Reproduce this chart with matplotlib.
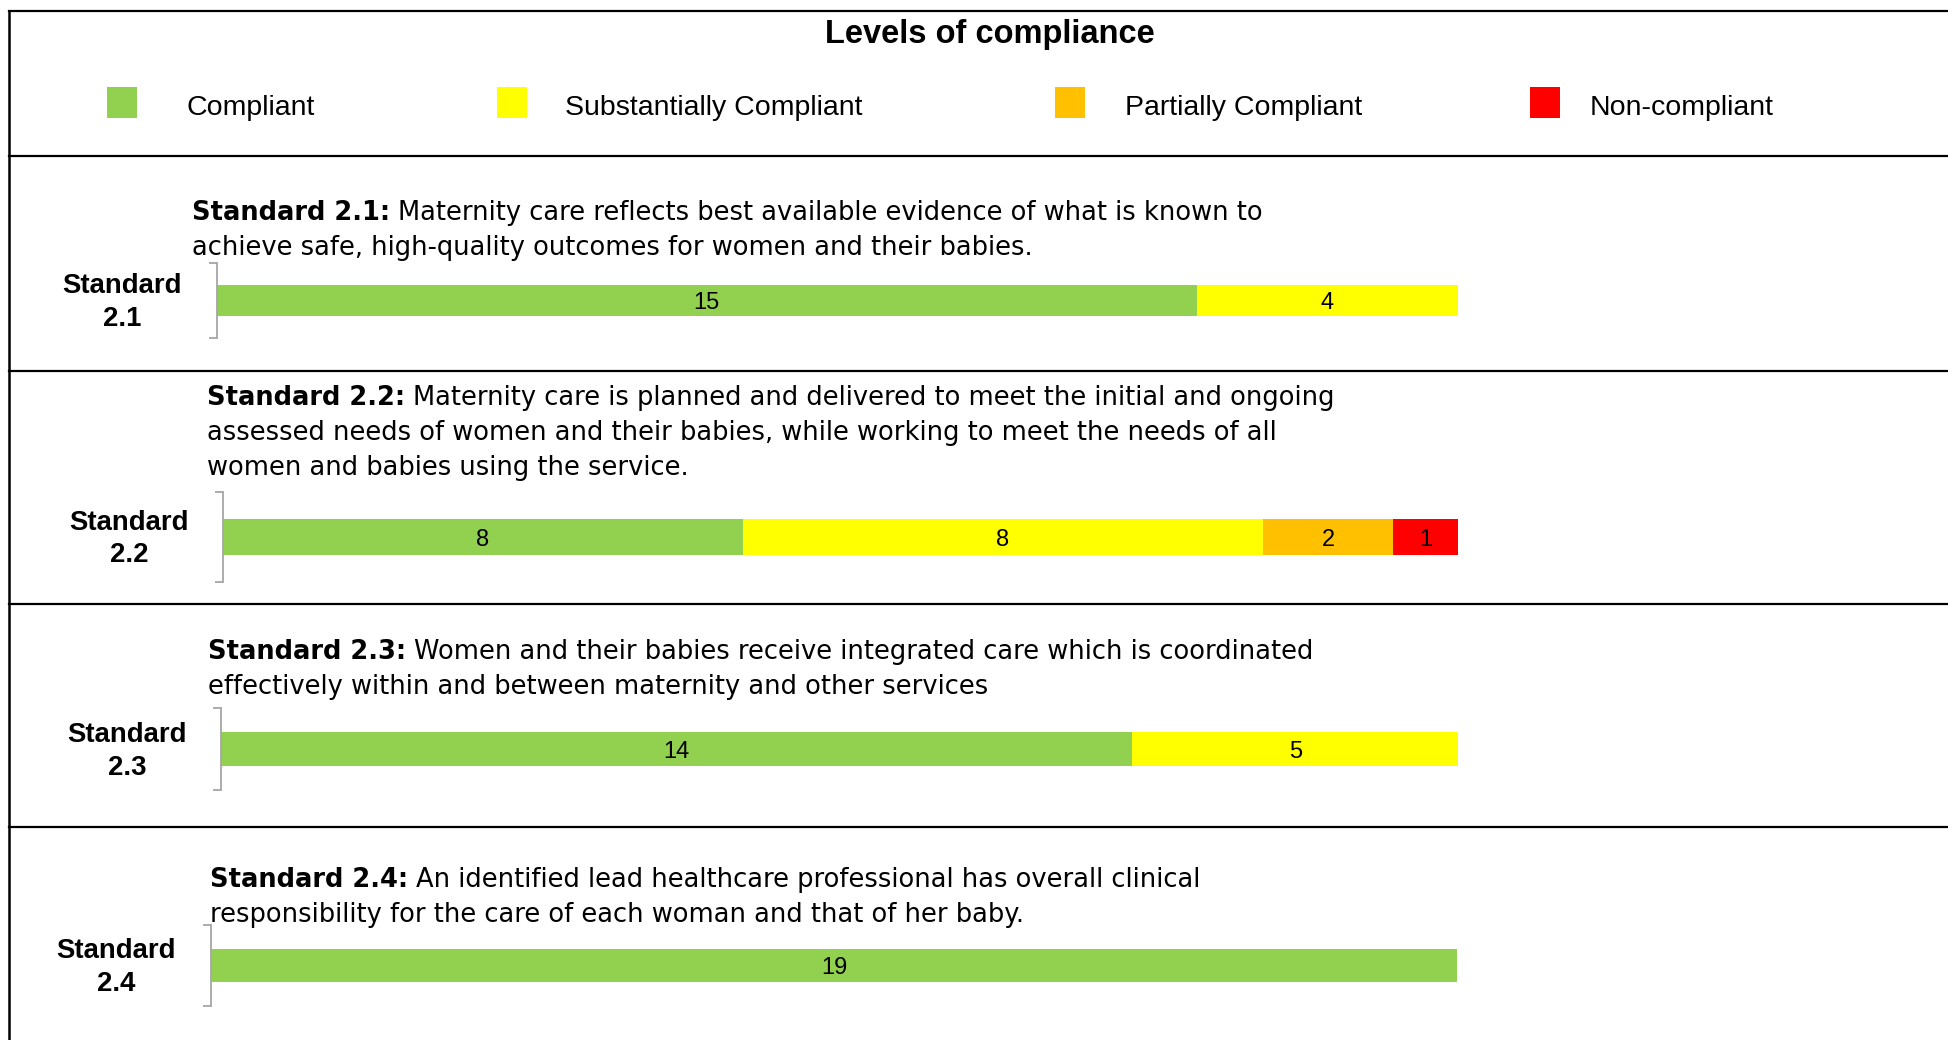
import matplotlib
matplotlib.use('Agg')
import matplotlib.pyplot as plt
from matplotlib.patches import Rectangle
from matplotlib.lines import Line2D

plt.rcParams['font.family'] = ['Liberation Sans', 'DejaVu Sans']

W, H = 1948, 1040

# data
levels = ['Compliant', 'Substantially Compliant', 'Partially Compliant', 'Non-compliant']
level_colors = ['#92D050', '#FFFF00', '#FFC000', '#FF0000']

standards = ['Standard 2.1', 'Standard 2.2', 'Standard 2.3', 'Standard 2.4']
compliant = [15, 8, 14, 19]
substantially = [4, 8, 5, 0]
partially = [0, 2, 0, 0]
non_compliant = [0, 1, 0, 0]

descriptions = [
    ['Maternity care reflects best available evidence of what is known to',
     'achieve safe, high-quality outcomes for women and their babies.'],
    ['Maternity care is planned and delivered to meet the initial and ongoing',
     'assessed needs of women and their babies, while working to meet the needs of all',
     'women and babies using the service.'],
    ['Women and their babies receive integrated care which is coordinated',
     'effectively within and between maternity and other services'],
    ['An identified lead healthcare professional has overall clinical',
     'responsibility for the care of each woman and that of her baby.'],
]

# layout in pixels (left, top, right, bottom of bar axes), text x, first baseline, label x, label baselines
panels = [
    dict(box=(217, 263, 1458, 338), tx=192, ty=220, lx=122, ly=(293, 326)),
    dict(box=(223, 492, 1458, 582), tx=207, ty=405, lx=129, ly=(530, 562)),
    dict(box=(221, 708, 1458, 790), tx=208, ty=659, lx=127, ly=(742, 775)),
    dict(box=(211, 925, 1457, 1006), tx=210, ty=887, lx=116.5, ly=(958, 991)),
]
separators = [156, 371, 604, 827]

DESC_FONT = 'DejaVu Sans'
TXT = 18.5
LINE = 35


def fx(px):
    return px / W


def fy(py):
    return 1 - py / H


fig = plt.figure(figsize=(W / 100, H / 100), dpi=100)
renderer = fig.canvas.get_renderer()

# frame
fig.add_artist(Line2D([fx(9), fx(W)], [fy(11), fy(11)], color='black', lw=1.6))
fig.add_artist(Line2D([fx(9), fx(9)], [fy(11), fy(H)], color='black', lw=1.8))
for s in separators:
    fig.add_artist(Line2D([fx(9), fx(W)], [fy(s), fy(s)], color='black', lw=1.6))

# legend header
fig.text(fx(990), fy(43), 'Levels of compliance', fontsize=23.5, fontweight='bold',
         ha='center', va='baseline')
sq_x = [107, 497, 1055, 1530]
lab_x = [186, 565, 1125, 1590]
for name, col, sx, lxx in zip(levels, level_colors, sq_x, lab_x):
    fig.add_artist(Rectangle((fx(sx), fy(118)), 30 / W, 31 / H, transform=fig.transFigure,
                             facecolor=col, edgecolor='none'))
    fig.text(fx(lxx), fy(115), name, fontsize=20.5, va='baseline')

series = [compliant, substantially, partially, non_compliant]
space_px = 0.318 * TXT * 100 / 72

for i, p in enumerate(panels):
    l, t, r, b = p['box']
    ax = fig.add_axes([fx(l), fy(b), (r - l) / W, (b - t) / H])
    ax.set_xlim(0, 19)
    ax.set_ylim(-0.5, 0.5)
    left = 0
    for vals, col in zip(series, level_colors):
        v = vals[i]
        if v:
            ax.barh(0, v, left=left, height=0.41, color=col)
            ax.annotate(str(v), xy=(left + v / 2, 0), xytext=(0, -2), textcoords='offset points',
                        ha='center', va='center', fontsize=17)
        left += v
    for sp in ['top', 'right', 'bottom']:
        ax.spines[sp].set_visible(False)
    ax.spines['left'].set_color('#A6A6A6')
    ax.spines['left'].set_linewidth(1.3)
    ax.set_xticks([])
    ax.set_yticks([-0.5, 0.5])
    ax.tick_params(axis='y', length=6, width=1.3, color='#A6A6A6', labelleft=False)
    ax.patch.set_alpha(0)

    # description
    head = fig.text(fx(p['tx']), fy(p['ty']), standards[i] + ':', fontsize=TXT,
                    fontweight='bold', va='baseline', family=DESC_FONT)
    w = head.get_window_extent(renderer).width
    for k, line in enumerate(descriptions[i]):
        x = p['tx'] + (w + space_px if k == 0 else 0)
        fig.text(fx(x), fy(p['ty'] + k * LINE), line, fontsize=TXT, va='baseline',
                 family=DESC_FONT)

    # category label
    word, num = standards[i].split()
    fig.text(fx(p['lx']), fy(p['ly'][0]), word, fontsize=19.8, fontweight='bold',
             ha='center', va='baseline')
    fig.text(fx(p['lx']), fy(p['ly'][1]), num, fontsize=19.8, fontweight='bold',
             ha='center', va='baseline')

fig.savefig('out.png', dpi=100)
